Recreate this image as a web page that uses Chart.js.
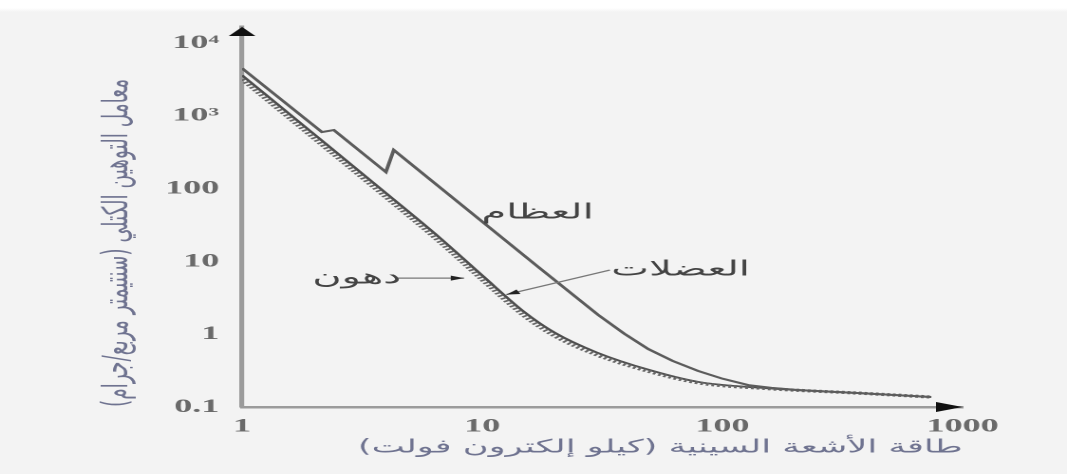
<!DOCTYPE html>
<html>
<head>
<meta charset="utf-8">
<script src="https://cdn.jsdelivr.net/npm/chart.js@4.4.1/dist/chart.umd.min.js"></script>
<style>
  html, body { margin: 0; padding: 0; overflow: hidden; }
  body { background: linear-gradient(#ffffff 0, #ffffff 8px, #f3f3f3 12px); }
  /* the source figure is stretched sideways, so the chart is drawn narrow and widened */
  #stretch { width: 562px; height: 474px; transform: scaleX(1.8986); transform-origin: 0 0; }
</style>
</head>
<body>
<div id="stretch"><canvas id="chart-attenuation" width="562" height="474"></canvas></div>
<script>
// X-ray energy (keV) and mass attenuation coefficient (cm²/g)
const boneEnergy = [1, 2.15, 2.41, 3.97, 4.28, 17.1, 30.4, 39, 49.1, 62, 79.2, 100, 128, 160, 206, 400, 740];
const boneValues = [4500, 598, 638, 169, 339, 8.4, 1.84, 1.02, 0.626, 0.43, 0.313, 0.245, 0.2, 0.183, 0.171, 0.153, 0.137];

const muscleEnergy = [1, 2, 4, 6.6, 10, 15, 20, 30, 50, 80, 150, 400, 740];
const muscleValues = [3600, 555, 85, 21.6, 6.4, 2.0, 1.05, 0.56, 0.32, 0.22, 0.182, 0.153, 0.137];

const fatEnergy = [1, 2, 4, 6.6, 10, 15, 20, 30, 50, 80, 150, 400, 740];
const fatValues = [3170, 488, 75, 19, 5.6, 1.78, 0.95, 0.52, 0.305, 0.214, 0.18, 0.153, 0.137];

// axis ticks
const xTicks = [1, 10, 100, 1000];
const xTickLabels = ['1', '10', '100', '1000'];
const yTicks = [0.1, 1, 10, 100, 1000, 10000];
const yTickLabels = ['0.1', '1', '10', '100', '10³', '10⁴'];

// curve names and where they sit (in data units)
const curveLabels = ['العظام', 'العضلات', 'دهون'];
const labelEnergy = [17, 67, 3.0];
const labelValue = [46, 7.6, 5.9];

// leader lines: from label to curve (data units)
const leaderFromEnergy = [34, 4.4];
const leaderFromValue = [7.6, 5.9];
const leaderToEnergy = [12.6, 8.4];
const leaderToValue = [3.5, 5.9];

const toPoints = (xs, ys) => xs.map((e, i) => ({x: e, y: ys[i]}));

const serifTicks = {family: '"Liberation Serif", "DejaVu Serif", serif', size: 19, weight: 'bold'};
const arabicFont = '"DejaVu Sans", sans-serif';

// arrowheads on the axes + curve labels with leaders
const sketchPlugin = {
  id: 'sketch',
  afterDatasetsDraw(chart) {
    const {ctx, chartArea: a, scales: {x, y}} = chart;
    ctx.save();
    ctx.fillStyle = '#111';
    ctx.beginPath();
    ctx.moveTo(a.left, a.top);
    ctx.lineTo(a.left - 7, a.top + 9);
    ctx.lineTo(a.left + 7, a.top + 9);
    ctx.closePath();
    ctx.fill();

    ctx.beginPath();
    ctx.moveTo(a.right, a.bottom);
    ctx.lineTo(a.right - 14, a.bottom - 5);
    ctx.lineTo(a.right - 14, a.bottom + 5);
    ctx.closePath();
    ctx.fill();

    // leaders
    ctx.strokeStyle = '#777';
    ctx.lineWidth = 1.2;
    leaderFromEnergy.forEach((e, i) => {
      const x0 = x.getPixelForValue(e), y0 = y.getPixelForValue(leaderFromValue[i]);
      const x1 = x.getPixelForValue(leaderToEnergy[i]), y1 = y.getPixelForValue(leaderToValue[i]);
      ctx.beginPath();
      ctx.moveTo(x0, y0);
      ctx.lineTo(x1, y1);
      ctx.stroke();
      const ang = Math.atan2(y1 - y0, x1 - x0);
      ctx.fillStyle = '#222';
      ctx.beginPath();
      ctx.moveTo(x1, y1);
      ctx.lineTo(x1 - 7 * Math.cos(ang) + 2.5 * Math.sin(ang), y1 - 7 * Math.sin(ang) - 2.5 * Math.cos(ang));
      ctx.lineTo(x1 - 7 * Math.cos(ang) - 2.5 * Math.sin(ang), y1 - 7 * Math.sin(ang) + 2.5 * Math.cos(ang));
      ctx.closePath();
      ctx.fill();
    });

    ctx.fillStyle = '#444';
    ctx.font = '21px ' + arabicFont;
    ctx.textAlign = 'center';
    ctx.textBaseline = 'middle';
    curveLabels.forEach((t, i) => {
      ctx.fillText(t, x.getPixelForValue(labelEnergy[i]), y.getPixelForValue(labelValue[i]));
    });
    ctx.restore();
  }
};

const ctx = document.getElementById('chart-attenuation').getContext('2d');
new Chart(ctx, {
  type: 'line',
  data: {
    datasets: [
      {
        label: 'العظام',
        data: toPoints(boneEnergy, boneValues),
        borderColor: '#5c5c5c',
        borderWidth: 2,
        tension: 0
      },
      {
        label: 'دهون',
        data: toPoints(fatEnergy, fatValues),
        borderColor: '#666666',
        borderWidth: 3.2,
        borderDash: [1.5, 1.5],
        cubicInterpolationMode: 'monotone'
      },
      {
        label: 'العضلات',
        data: toPoints(muscleEnergy, muscleValues),
        borderColor: '#4e4e4e',
        borderWidth: 1.8,
        cubicInterpolationMode: 'monotone'
      }
    ]
  },
  options: {
    responsive: false,
    devicePixelRatio: 2,
    animation: false,
    elements: {
      point: { radius: 0 } // plain curves
    },
    layout: {
      padding: { top: 27, right: 55, left: 0, bottom: 0 }
    },
    plugins: {
      legend: { display: false },
      tooltip: { enabled: false }
    },
    scales: {
      x: {
        type: 'logarithmic',
        min: 1,
        max: 1000,
        afterBuildTicks: (axis) => { axis.ticks = xTicks.map(v => ({value: v})); },
        afterFit: (axis) => { axis.height = 67; },
        grid: { display: false, drawTicks: false },
        border: { display: true, color: '#9b9b9b', width: 2.5 },
        ticks: {
          autoSkip: false,
          maxRotation: 0,
          padding: 8,
          color: '#6a6a6a',
          font: serifTicks,
          callback: (v) => xTickLabels[xTicks.indexOf(v)]
        },
        title: {
          display: true,
          align: 'end',
          text: 'طاقة الأشعة السينية (كيلو إلكترون فولت)',
          color: '#6f7390',
          font: {family: arabicFont, size: 18.5},
          padding: { top: 0, bottom: 15 }
        }
      },
      y: {
        type: 'logarithmic',
        min: 0.1,
        max: 16600,
        afterBuildTicks: (axis) => { axis.ticks = yTicks.map(v => ({value: v})); },
        afterFit: (axis) => { axis.width = 127.5; },
        grid: { display: false, drawTicks: false },
        border: { display: true, color: '#9b9b9b', width: 2.6 },
        ticks: {
          autoSkip: false,
          padding: 12,
          color: '#6a6a6a',
          font: serifTicks,
          callback: (v) => yTickLabels[yTicks.indexOf(v)]
        },
        title: {
          display: true,
          align: 'start',
          text: 'معامل التوهين الكتلي (سنتيمتر مربع/جرام)',
          color: '#6f7390',
          font: {family: arabicFont, size: 18.5},
          padding: { top: 51, bottom: 0 }
        }
      }
    }
  },
  plugins: [sketchPlugin]
});
</script>
</body>
</html>
